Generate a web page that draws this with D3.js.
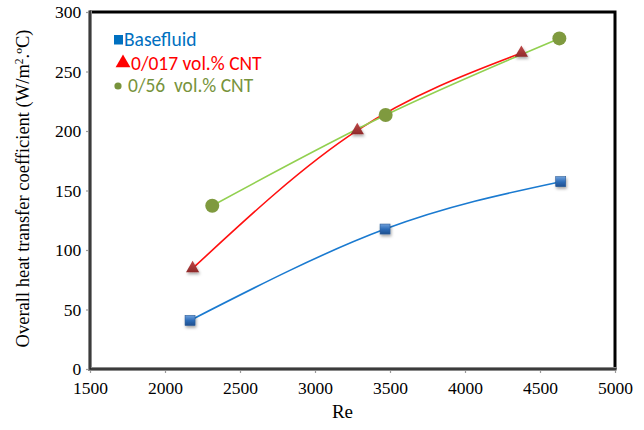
<!DOCTYPE html>
<html>
<head>
<meta charset="utf-8">
<script src="https://cdn.jsdelivr.net/npm/d3@7"></script>
<style>
  body { margin: 0; background: #fff; }
  svg { display: block; }
</style>
</head>
<body>
<script>
// values
const baseRe = [2167, 3467, 4638];
const baseH = [40.8, 117.6, 157.4];
const cnt017Re = [2184, 3282, 4376];
const cnt017H = [84.5, 200.5, 265.5];
const cnt056Re = [2315, 3471, 4629];
const cnt056H = [137.2, 213.4, 277.8];
const xTicks = [1500, 2000, 2500, 3000, 3500, 4000, 4500, 5000];
const yTicks = [0, 50, 100, 150, 200, 250, 300];
const seriesNames = ["Basefluid", "0/017 vol.% CNT", "0/56  vol.% CNT"];

const width = 644, height = 430;
const margin = {left: 90, right: 29, top: 12, bottom: 61};

const svg = d3.select("body").append("svg")
    .attr("width", width)
    .attr("height", height);

const defs = svg.append("defs");
const shadow = defs.append("filter").attr("id", "shadow")
    .attr("x", "-50%").attr("y", "-50%").attr("width", "200%").attr("height", "200%");
shadow.append("feDropShadow")
    .attr("dx", 1).attr("dy", 2).attr("stdDeviation", 1.5)
    .attr("flood-color", "#000").attr("flood-opacity", 0.35);

const sqGrad = defs.append("linearGradient").attr("id", "sqGrad")
    .attr("x1", 0).attr("y1", 0).attr("x2", 0).attr("y2", 1);
sqGrad.append("stop").attr("offset", "0%").attr("stop-color", "#6fa0dc");
sqGrad.append("stop").attr("offset", "50%").attr("stop-color", "#2e6db8");
sqGrad.append("stop").attr("offset", "100%").attr("stop-color", "#1f4f8f");

const triGrad = defs.append("linearGradient").attr("id", "triGrad")
    .attr("x1", 0).attr("y1", 0).attr("x2", 0).attr("y2", 1);
triGrad.append("stop").attr("offset", "0%").attr("stop-color", "#c04848");
triGrad.append("stop").attr("offset", "100%").attr("stop-color", "#8e2a2a");

const x = d3.scaleLinear().domain([1500, 5000]).range([margin.left, width - margin.right]);
const y = d3.scaleLinear().domain([0, 300]).range([height - margin.bottom, margin.top]);

const x0 = x(1500), x1 = x(5000), y0 = y(0), y1 = y(300);

// frame: black top/right
svg.append("path")
    .attr("d", `M${x0},${y1}H${x1}V${y0}`)
    .attr("fill", "none")
    .attr("stroke", "#000")
    .attr("stroke-width", 3);

// axes
const xAxis = svg.append("g")
    .attr("transform", `translate(0,${y0})`)
    .call(d3.axisBottom(x).tickValues(xTicks).tickFormat(d3.format("d")).tickSize(4).tickSizeOuter(0));
const yAxis = svg.append("g")
    .attr("transform", `translate(${x0},0)`)
    .call(d3.axisLeft(y).tickValues(yTicks).tickFormat(d3.format("d")).tickSize(4).tickSizeOuter(0));

[xAxis, yAxis].forEach(g => {
    g.select(".domain").remove();
    g.selectAll(".tick line").attr("stroke", "#999").attr("stroke-width", 1.2);
    g.selectAll(".tick text")
        .attr("font-family", "'Liberation Serif', 'Times New Roman', serif")
        .attr("font-size", 17.5)
        .attr("fill", "#000");
});
xAxis.selectAll(".tick text").attr("dy", "1.05em");
yAxis.selectAll(".tick text").attr("dx", "-0.1em");

// left and bottom axis lines (double gray look)
svg.append("path")
    .attr("d", `M${x0},${y1 - 1.5}V${y0}H${x1 + 1.5}`)
    .attr("fill", "none").attr("stroke", "#8a8a8a").attr("stroke-width", 4);
svg.append("path")
    .attr("d", `M${x0},${y1 - 1.5}V${y0}H${x1 + 1.5}`)
    .attr("fill", "none").attr("stroke", "#222").attr("stroke-width", 1.5);

// lines
const line = d3.line().x(d => x(d[0])).y(d => y(d[1])).curve(d3.curveNatural);
const zip = (a, b) => a.map((v, i) => [v, b[i]]);

svg.append("path").datum(zip(baseRe, baseH))
    .attr("d", line).attr("fill", "none").attr("stroke", "#1a7ad0").attr("stroke-width", 1.6);
svg.append("path").datum(zip(cnt017Re, cnt017H))
    .attr("d", line).attr("fill", "none").attr("stroke", "#ff1010").attr("stroke-width", 1.6);
svg.append("path").datum(zip(cnt056Re, cnt056H))
    .attr("d", line).attr("fill", "none").attr("stroke", "#92d050").attr("stroke-width", 1.6);

// markers
svg.append("g").selectAll("rect").data(zip(baseRe, baseH)).join("rect")
    .attr("x", d => x(d[0]) - 5).attr("y", d => y(d[1]) - 5)
    .attr("width", 10).attr("height", 10)
    .attr("fill", "url(#sqGrad)").attr("stroke", "#2a5a96").attr("stroke-width", 0.6)
    .attr("filter", "url(#shadow)");

const tri = d3.symbol().type(d3.symbolTriangle).size(75);
svg.append("g").selectAll("path").data(zip(cnt017Re, cnt017H)).join("path")
    .attr("d", tri)
    .attr("transform", d => `translate(${x(d[0])},${y(d[1])})`)
    .attr("fill", "url(#triGrad)")
    .attr("filter", "url(#shadow)");

svg.append("g").selectAll("circle").data(zip(cnt056Re, cnt056H)).join("circle")
    .attr("cx", d => x(d[0])).attr("cy", d => y(d[1]))
    .attr("r", 7)
    .attr("fill", "#7f9a3f");

// legend
const legFont = "Carlito, Lato, 'Open Sans', sans-serif";
const leg = svg.append("g").attr("font-family", legFont).attr("font-size", 19.5);
leg.append("rect").attr("x", 114).attr("y", 35).attr("width", 9).attr("height", 9.5).attr("fill", "#0070c0");
leg.append("text").attr("x", 124).attr("y", 46).attr("fill", "#0070c0").text(seriesNames[0]);
leg.append("path").attr("d", d3.symbol().type(d3.symbolTriangle).size(95))
    .attr("transform", "translate(123,63)").attr("fill", "#ff0000");
leg.append("text").attr("x", 131).attr("y", 69.5).attr("fill", "#ff0000").text(seriesNames[1]);
leg.append("circle").attr("cx", 118).attr("cy", 86).attr("r", 3.6).attr("fill", "#77933c");
leg.append("text").attr("x", 128).attr("y", 91.5).attr("fill", "#77933c")
    .attr("xml:space", "preserve").style("white-space", "pre").text(seriesNames[2]);

// axis titles
svg.append("text")
    .attr("x", (x0 + x1) / 2 - 10).attr("y", 418)
    .attr("text-anchor", "middle")
    .attr("font-family", "'Liberation Serif', 'Times New Roman', serif")
    .attr("font-size", 19)
    .text("Re");

const yt = svg.append("text")
    .attr("transform", `translate(29,${(y0 + y1) / 2 - 2}) rotate(-90)`)
    .attr("text-anchor", "middle")
    .attr("font-family", "'Liberation Serif', 'Times New Roman', serif")
    .attr("font-size", 18.5);
yt.append("tspan").text("Overall heat transfer coefficient (W/m");
yt.append("tspan").attr("dy", -6).attr("font-size", 11.5).text("2");
yt.append("tspan").attr("dy", 6).text(".ºC)");
</script>
</body>
</html>
